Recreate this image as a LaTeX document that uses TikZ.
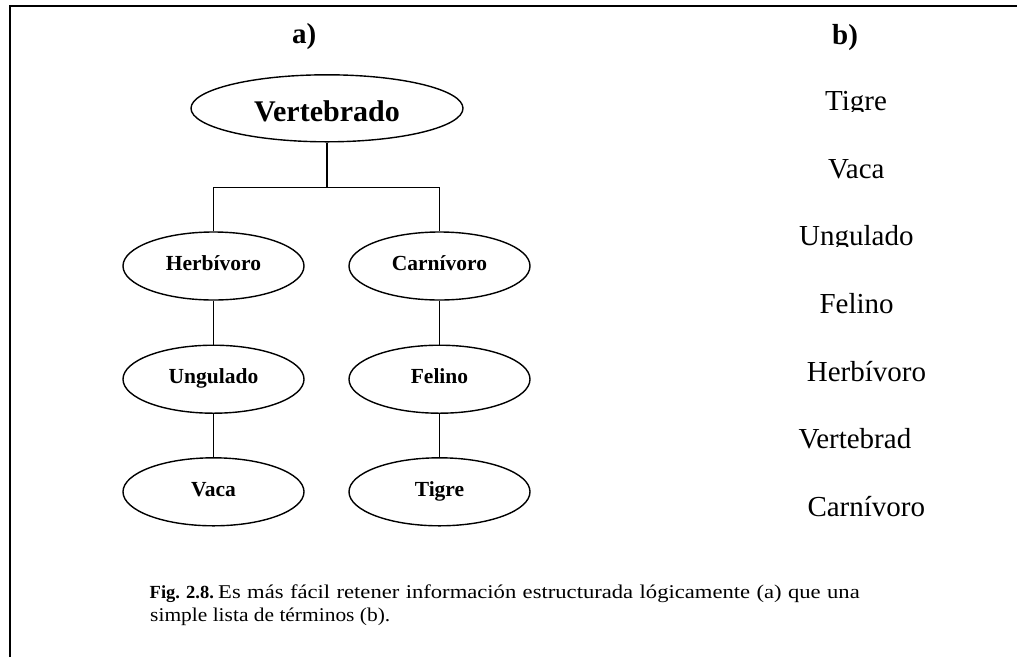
\documentclass[tikz,border=0pt]{standalone}
\usepackage{fontspec}
\setmainfont{Liberation Serif}
\usetikzlibrary{shapes.geometric}
\tikzset{
  conn/.style={line width=1.4pt},
  ellbig/.style={draw, ellipse, line width=1.4pt, inner sep=0pt,
    minimum width=272pt, minimum height=67pt,
    text height=25.4pt, text depth=0pt,
    font=\bfseries\fontsize{30}{34}\selectfont},
  ell/.style={draw, ellipse, line width=1.4pt, inner sep=0pt,
    minimum width=181pt, minimum height=68pt,
    text height=9.2pt, text depth=0pt,
    font=\bfseries\fontsize{21.5}{24}\selectfont},
  head/.style={anchor=base west, inner sep=0pt, font=\bfseries\fontsize{29}{32}\selectfont},
  item/.style={anchor=base west, inner sep=0pt, font=\fontsize{29}{32}\selectfont},
  capt/.style={anchor=base west, inner sep=0pt, font=\fontsize{19.5}{22}\selectfont},
  frame/.style={line width=2pt}
}
\begin{document}
\begin{tikzpicture}[x=1pt,y=-1pt]
\useasboundingbox (0,0) rectangle (1017,657);
% frame
\coordinate (fa) at (9.5,657);
\coordinate (fb) at (9.5,5.5);
\coordinate (fc) at (1017,5.5);
\draw[frame] (fa) -- (fb) -- (fc);
% headings
\node[head] (la) at (292,43) {a)};
\node[head] (lb) at (832,44) {b)};
% tree
\node[ellbig] (vert) at (327,108.3) {Vertebrado};
\node[ell] (herb) at (213.5,266) {Herbívoro};
\node[ell] (carn) at (439.5,266) {Carnívoro};
\node[ell] (ung) at (213.5,379.2) {Ungulado};
\node[ell] (fel) at (439.5,379.2) {Felino};
\node[ell] (vaca) at (213.5,491.8) {Vaca};
\node[ell] (tig) at (439.5,491.8) {Tigre};
\coordinate (bus) at (327,187.3);
\draw[conn] (vert) -- (bus);
\draw[conn] (herb.north) |- (bus) -| (carn.north);
\draw[conn] (herb) -- (ung);
\draw[conn] (ung) -- (vaca);
\draw[conn] (carn) -- (fel);
\draw[conn] (fel) -- (tig);
% list b)
\begin{scope}
\clip (780,60) rectangle (950,111.8);
\node[item] (b1) at (825,110.7) {Tigre};
\end{scope}
\node[item] (b2) at (828,178) {Vaca};
\begin{scope}
\clip (780,200) rectangle (950,246.3);
\node[item] (b3) at (799,245) {Ungulado};
\end{scope}
\node[item] (b4) at (819.3,313.3) {Felino};
\node[item] (b5) at (806.7,381.7) {Herbívoro};
\node[item] (b6) at (798.3,448.3) {Vertebrad};
\node[item] (b7) at (807.3,516.7) {Carnívoro};
% caption
\node[capt] (c1) at (149.5,598.5) {{\fontsize{18.5}{22}\selectfont\textbf{Fig. 2.8.}}\hspace{4.3pt}\scalebox{1.16}[1]{\makebox[553pt][s]{Es más fácil retener información estructurada lógicamente (a) que una}}};
\node[capt] (c2) at (150,621.5) {\scalebox{1.10}[1]{simple lista de términos (b).}};
\end{tikzpicture}
\end{document}
